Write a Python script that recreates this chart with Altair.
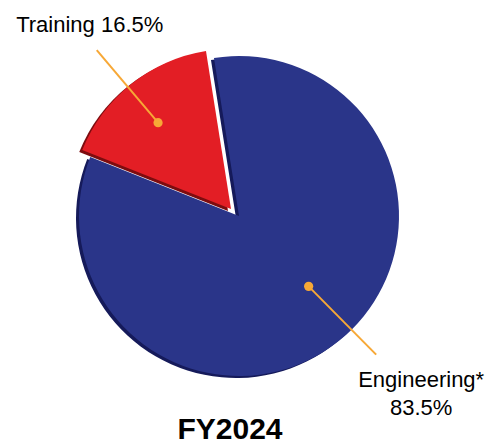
import math
import altair as alt
import pandas as pd

# ---- data ----
categories = ["Engineering*", "Training"]
values = [83.5, 16.5]
label_texts = ["Engineering*\n83.5%", "Training 16.5%"]
title_text = "FY2024"

# ---- layout / style constants ----
W, H = 477, 432
CX, CY = 231, 208          # pie centre (px)
R = 160                    # pie radius (px)
START_DEG = 351            # where the first slice starts (clockwise from 12 o'clock)
EXPLODE = {"Engineering*": (0, 0), "Training": (-8, -7)}
SHADOW = (-3, 2)
COLORS = {"Engineering*": "#2a3589", "Training": "#e31e25"}
SHADOW_COLORS = {"Engineering*": "#151a5a", "Training": "#7d0c0f"}
LEADER = "#f7a836"
# leader geometry per slice: (angle adjust deg, dot radius, line end radius)
LEADER_GEOM = {"Engineering*": (-6, 99, 195), "Training": (-1.5, 113, 208)}
# label offset from leader end (dx, dy)
LABEL_OFF = {"Engineering*": (45, 32), "Training": (-7, -18)}
FONT = "Liberation Sans"

df = pd.DataFrame({"category": categories, "value": values, "label": label_texts})
df["end"] = df["value"].cumsum()
df["start"] = df["end"] - df["value"]
total = float(df["value"].sum())

# annotation positions derived from slice mid-angles
rows = []
for _, r in df.iterrows():
    cat = r["category"]
    ex, ey = EXPLODE[cat]
    cx, cy = CX + ex, CY + ey
    adj, rd, rl = LEADER_GEOM[cat]
    mid = START_DEG + (r["start"] + r["end"]) / 2 / total * 360 + adj
    a = math.radians(mid)
    dx, dy = math.sin(a), -math.cos(a)
    ldx, ldy = LABEL_OFF[cat]
    rows.append({
        "category": cat,
        "label": r["label"],
        "dot_x": cx + rd * dx, "dot_y": cy + rd * dy,
        "end_x": cx + rl * dx, "end_y": cy + rl * dy,
        "lab_x": cx + rl * dx + ldx, "lab_y": cy + rl * dy + ldy,
    })
ann = pd.DataFrame(rows)

start_rad = math.radians(START_DEG)
theta_scale = alt.Scale(domain=[0, total], range=[start_rad, start_rad + 2 * math.pi])
xs = alt.Scale(domain=[0, W], nice=False, zero=False)
ys = alt.Scale(domain=[H, 0], nice=False, zero=False)


def slice_layer(cat, color, ox, oy):
    ex, ey = EXPLODE[cat]
    return (
        alt.Chart(df)
        .transform_filter(alt.datum.category == cat)
        .mark_arc(outerRadius=R, color=color)
        .encode(
            theta=alt.Theta("start:Q", scale=theta_scale),
            theta2="end:Q",
            x=alt.value(CX + ex + ox),
            y=alt.value(CY + ey + oy),
        )
    )


layers = []
for cat in categories:
    layers.append(slice_layer(cat, SHADOW_COLORS[cat], SHADOW[0], SHADOW[1]))
    layers.append(slice_layer(cat, COLORS[cat], 0, 0))

lines = alt.Chart(ann).mark_rule(color=LEADER, strokeWidth=2).encode(
    x=alt.X("dot_x:Q", scale=xs, axis=None),
    y=alt.Y("dot_y:Q", scale=ys, axis=None),
    x2="end_x:Q",
    y2="end_y:Q",
)
dots = alt.Chart(ann).mark_circle(color=LEADER, size=85, opacity=1).encode(
    x=alt.X("dot_x:Q", scale=xs, axis=None),
    y=alt.Y("dot_y:Q", scale=ys, axis=None),
)
labels = alt.Chart(ann).mark_text(
    font=FONT, fontSize=22, color="#000000", align="center", baseline="alphabetic",
    lineBreak="\n", lineHeight=28,
).encode(
    x=alt.X("lab_x:Q", scale=xs, axis=None),
    y=alt.Y("lab_y:Q", scale=ys, axis=None),
    text="label:N",
)
title = alt.Chart(pd.DataFrame({"t": [title_text]})).mark_text(
    font=FONT, fontSize=30, fontWeight="bold", color="#000000",
    align="center", baseline="alphabetic",
).encode(x=alt.value(222), y=alt.value(431), text="t:N")

chart = (
    alt.layer(*layers, lines, dots, labels, title)
    .properties(width=W, height=H, padding=0)
    .configure_view(stroke=None)
)
chart.save("out.html", embed_options={"renderer": "svg", "actions": False})
